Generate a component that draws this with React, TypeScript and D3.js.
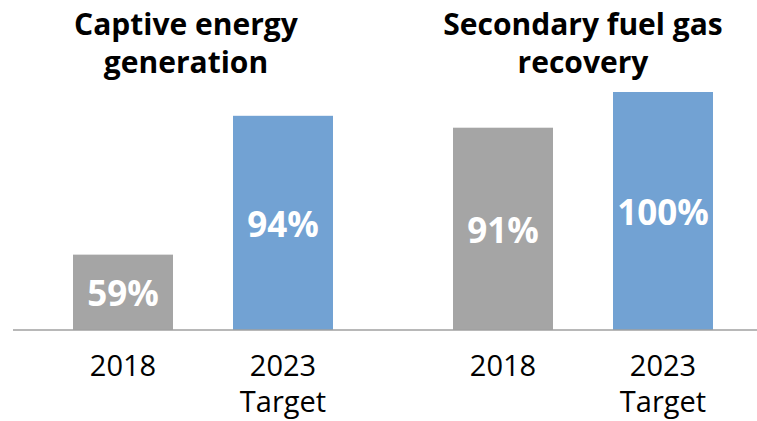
import React from "react";
import * as d3 from "d3";

const groups = ["Captive energy generation", "Secondary fuel gas recovery"];
const groupTitles = [["Captive energy", "generation"], ["Secondary fuel gas", "recovery"]];
const categories = ["2018", "2023 Target"];
const categoryLines = [["2018"], ["2023", "Target"]];
const values = [
  [59, 94],
  [91, 100],
];
const yDomain = [40, 100];

const W = 757;
const H = 421;
const FONT = "'Open Sans', 'Noto Sans', sans-serif";
const COLORS = ["#a5a5a5", "#72a2d3"];

export default function App() {
  const x0 = d3.scaleBand<string>().domain(groups).range([13, 773]).padding(0);
  const x1 = d3
    .scaleBand<string>()
    .domain(categories)
    .range([0, x0.bandwidth()])
    .paddingInner(0.375)
    .paddingOuter(0.375);
  const y = d3.scaleLinear().domain(yDomain).range([330, 92]);
  const titleX = [186, 583];

  return (
    <div style={{ position: "absolute", left: 0, top: 0 }}>
      <svg width={W} height={H} style={{ display: "block", background: "#fff" }}>
        {groups.map((g, gi) => (
          <g key={g}>
            <text
              x={titleX[gi]}
              textAnchor="middle"
              fontFamily={FONT}
              fontWeight="bold"
              fontSize={30}
              fill="#000"
            >
              {groupTitles[gi].map((line, li) => (
                <tspan key={li} x={titleX[gi]} y={35 + li * 38}>
                  {line}
                </tspan>
              ))}
            </text>
            {categories.map((c, ci) => {
              const bx = (x0(g) as number) + (x1(c) as number);
              const bw = x1.bandwidth();
              const v = values[gi][ci];
              const top = y(v);
              const cx = bx + bw / 2;
              return (
                <g key={c}>
                  <rect x={bx} y={top} width={bw} height={y(yDomain[0]) - top} fill={COLORS[ci]} />
                  <text
                    x={cx}
                    y={(top + y(yDomain[0])) / 2 + 14}
                    textAnchor="middle"
                    fontFamily={FONT}
                    fontWeight="bold"
                    fontSize={35}
                    fill="#fff"
                  >
                    {v}%
                  </text>
                  <text x={cx} textAnchor="middle" fontFamily={FONT} fontSize={29} fill="#000">
                    {categoryLines[ci].map((line, li) => (
                      <tspan key={li} x={cx} y={376 + li * 36}>
                        {line}
                      </tspan>
                    ))}
                  </text>
                </g>
              );
            })}
          </g>
        ))}
        <line x1={13} x2={W} y1={y(yDomain[0])} y2={y(yDomain[0])} stroke="#a0a0a0" strokeWidth={1.5} />
      </svg>
    </div>
  );
}
